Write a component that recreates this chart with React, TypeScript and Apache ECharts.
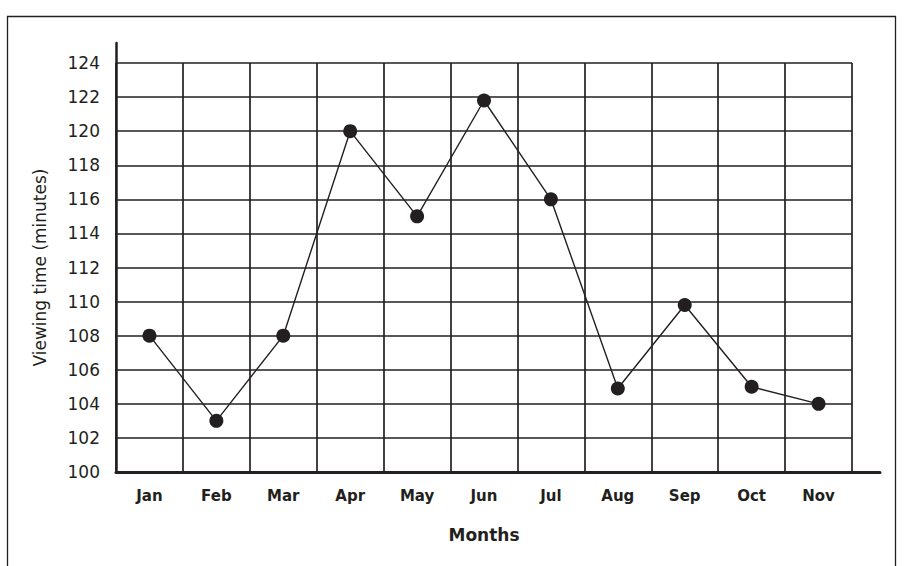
import React, { useEffect, useRef } from "react";
import * as echarts from "echarts";

const months = ["Jan", "Feb", "Mar", "Apr", "May", "Jun", "Jul", "Aug", "Sep", "Oct", "Nov"];
const viewingTime = [108, 103, 108, 120, 115, 121.8, 116, 104.9, 109.8, 105, 104];
const yMin = 100;
const yMax = 124;
const yStep = 2;

const INK = "#231f20";
const FONT = "'DejaVu Sans', 'Liberation Sans', sans-serif";

export default function App() {
  const ref = useRef<HTMLDivElement>(null);
  useEffect(() => {
    if (!ref.current) return;
    const chart = echarts.init(ref.current, null, { renderer: "svg" });
    chart.setOption({
      animation: false,
      backgroundColor: "#ffffff",
      graphic: [
        {
          type: "rect",
          shape: { x: 7.5, y: 16.5, width: 888, height: 600 },
          style: { fill: "none", stroke: INK, lineWidth: 1.3 },
          silent: true,
        },
      ],
      grid: [
        { left: 116, right: 56, top: 63, bottom: 94 },
        { left: 116, right: 28, top: 43, bottom: 94 },
      ],
      xAxis: [
        {
          gridIndex: 0,
          type: "category",
          data: months,
          boundaryGap: true,
          axisLine: { show: false },
          axisTick: { show: false },
          axisLabel: {
            interval: 0,
            margin: 16,
            color: INK,
            fontFamily: FONT,
            fontSize: 15,
            fontWeight: "bold",
          },
          splitLine: { show: true, interval: 0, lineStyle: { color: INK, width: 1.7 } },
          name: "Months",
          nameLocation: "middle",
          nameGap: 54,
          nameTextStyle: { color: INK, fontFamily: FONT, fontSize: 17, fontWeight: "bold" },
        },
        {
          gridIndex: 1,
          type: "value",
          min: 0,
          max: 1,
          axisLine: { show: true, lineStyle: { color: INK, width: 3 } },
          axisTick: { show: false },
          axisLabel: { show: false },
          splitLine: { show: false },
        },
      ],
      yAxis: [
        {
          gridIndex: 0,
          type: "value",
          min: yMin,
          max: yMax,
          interval: yStep,
          axisLine: { show: false },
          axisTick: { show: false },
          axisLabel: {
            margin: 16,
            color: INK,
            fontFamily: FONT,
            fontSize: 17,
          },
          splitLine: { show: true, lineStyle: { color: INK, width: 1.7 } },
          name: "Viewing time (minutes)",
          nameLocation: "middle",
          nameGap: 68,
          nameTextStyle: { color: INK, fontFamily: FONT, fontSize: 17 },
        },
        {
          gridIndex: 1,
          type: "value",
          min: 0,
          max: 1,
          axisLine: { show: true, lineStyle: { color: INK, width: 2.5 } },
          axisTick: { show: false },
          axisLabel: { show: false },
          splitLine: { show: false },
        },
      ],
      series: [
        {
          type: "line",
          xAxisIndex: 0,
          yAxisIndex: 0,
          data: viewingTime,
          symbol: "circle",
          symbolSize: 14,
          lineStyle: { color: INK, width: 1.4 },
          itemStyle: { color: INK },
          z: 5,
        },
      ],
    });
    return () => chart.dispose();
  }, []);
  return (
    <div
      ref={ref}
      style={{ position: "fixed", left: 0, top: 0, width: 908, height: 566 }}
    />
  );
}
